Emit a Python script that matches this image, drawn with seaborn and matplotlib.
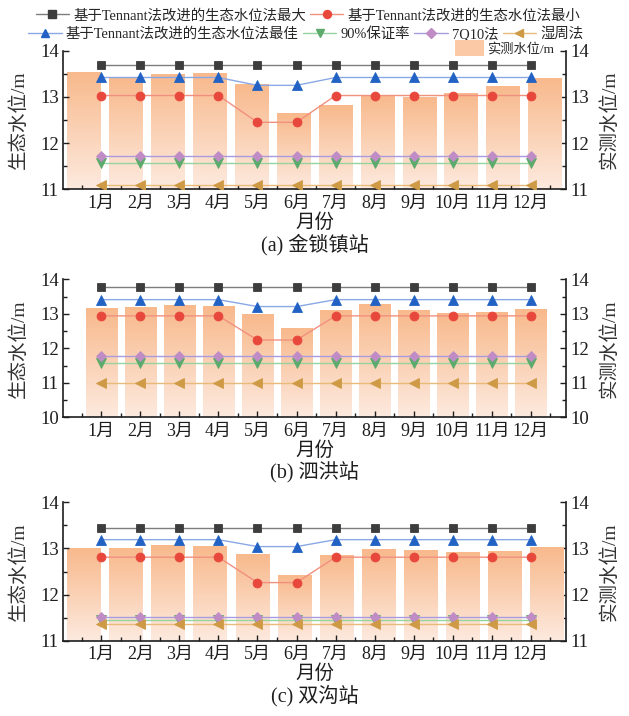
import numpy as np
import pandas as pd
import matplotlib
matplotlib.use("Agg")
import matplotlib.pyplot as plt
from matplotlib.colors import LinearSegmentedColormap
from matplotlib.lines import Line2D
from matplotlib.patches import Patch
from matplotlib.ticker import MultipleLocator
import seaborn as sns

# ---------------- data ----------------
months = [1, 2, 3, 4, 5, 6, 7, 8, 9, 10, 11, 12]
month_labels = ["1月", "2月", "3月", "4月", "5月", "6月", "7月", "8月", "9月", "10月", "11月", "12月"]

series_names = ["基于Tennant法改进的生态水位法最大", "基于Tennant法改进的生态水位法最小",
                "基于Tennant法改进的生态水位法最佳", "90%保证率", "7Q10法", "湿周法"]
bar_name = "实测水位/m"

# (a) 金锁镇站
jsz_max = [13.70, 13.70, 13.70, 13.70, 13.70, 13.70, 13.70, 13.70, 13.70, 13.70, 13.70, 13.70]
jsz_min = [13.03, 13.03, 13.03, 13.03, 12.45, 12.45, 13.03, 13.03, 13.03, 13.03, 13.03, 13.03]
jsz_best = [13.42, 13.42, 13.42, 13.42, 13.25, 13.25, 13.42, 13.42, 13.42, 13.42, 13.42, 13.42]
jsz_p90 = [11.58, 11.58, 11.58, 11.58, 11.58, 11.58, 11.58, 11.58, 11.58, 11.58, 11.58, 11.58]
jsz_7q10 = [11.73, 11.73, 11.73, 11.73, 11.73, 11.73, 11.73, 11.73, 11.73, 11.73, 11.73, 11.73]
jsz_wet = [11.09, 11.09, 11.09, 11.09, 11.09, 11.09, 11.09, 11.09, 11.09, 11.09, 11.09, 11.09]
jsz_obs = [13.52, 13.40, 13.47, 13.49, 13.26, 12.64, 12.81, 13.02, 12.99, 13.06, 13.21, 13.40]

# (b) 泗洪站
sh_max = [13.77, 13.77, 13.77, 13.77, 13.77, 13.77, 13.77, 13.77, 13.77, 13.77, 13.77, 13.77]
sh_min = [12.94, 12.94, 12.94, 12.94, 12.24, 12.24, 12.94, 12.94, 12.94, 12.94, 12.94, 12.94]
sh_best = [13.41, 13.41, 13.41, 13.41, 13.21, 13.21, 13.41, 13.41, 13.41, 13.41, 13.41, 13.41]
sh_p90 = [11.58, 11.58, 11.58, 11.58, 11.58, 11.58, 11.58, 11.58, 11.58, 11.58, 11.58, 11.58]
sh_7q10 = [11.78, 11.78, 11.78, 11.78, 11.78, 11.78, 11.78, 11.78, 11.78, 11.78, 11.78, 11.78]
sh_wet = [11.00, 11.00, 11.00, 11.00, 11.00, 11.00, 11.00, 11.00, 11.00, 11.00, 11.00, 11.00]
sh_obs = [13.14, 13.16, 13.22, 13.21, 12.98, 12.56, 13.09, 13.26, 13.10, 13.01, 13.04, 13.12]

# (c) 双沟站
sg_max = [13.45, 13.45, 13.45, 13.45, 13.45, 13.45, 13.45, 13.45, 13.45, 13.45, 13.45, 13.45]
sg_min = [12.81, 12.81, 12.81, 12.81, 12.26, 12.26, 12.81, 12.81, 12.81, 12.81, 12.81, 12.81]
sg_best = [13.19, 13.19, 13.19, 13.19, 13.04, 13.04, 13.19, 13.19, 13.19, 13.19, 13.19, 13.19]
sg_p90 = [11.45, 11.45, 11.45, 11.45, 11.45, 11.45, 11.45, 11.45, 11.45, 11.45, 11.45, 11.45]
sg_7q10 = [11.51, 11.51, 11.51, 11.51, 11.51, 11.51, 11.51, 11.51, 11.51, 11.51, 11.51, 11.51]
sg_wet = [11.37, 11.37, 11.37, 11.37, 11.37, 11.37, 11.37, 11.37, 11.37, 11.37, 11.37, 11.37]
sg_obs = [13.00, 13.01, 13.06, 13.05, 12.88, 12.42, 12.85, 12.98, 12.97, 12.92, 12.95, 13.03]

# ---------------- style ----------------
sns.set_style("ticks")
plt.rcParams["font.family"] = ["Liberation Serif", "Noto Sans CJK SC"]
plt.rcParams["axes.unicode_minus"] = False

# (marker, marker colour, line colour, marker size)
styles = [
    ("s", "#3d3d3d", "#7d7d7d", 6.0),
    ("o", "#e8473b", "#f2907f", 6.4),
    ("^", "#2262c4", "#8aa8e6", 7.0),
    ("v", "#5caa6c", "#95d49f", 7.0),
    ("D", "#c08cc6", "#a89be0", 5.2),
    ("<", "#cf9a45", "#e8bb7b", 7.0),
]
bar_cmap = LinearSegmentedColormap.from_list("obs", ["#fdeadf", "#f8b98c"])
ink = "#1e1e1e"

W, H = 629, 716
fig = plt.figure(figsize=(W / 100, H / 100), dpi=100)

AX_L, AX_R = 63, 566
line_xlim = (0.02, 12.9)


def px_rect(left, top, right, bottom):
    return [left / W, 1 - bottom / H, (right - left) / W, (bottom - top) / H]


def draw_panel(top, bottom, title, lines, obs, ylim, bar_xlim):
    rect = px_rect(AX_L, top, AX_R, bottom)

    # measured water level bars on their own axes (right-hand scale)
    ax_bar = fig.add_axes(rect)
    df_bar = pd.DataFrame({"month": months, "level": obs})
    sns.barplot(data=df_bar, x="month", y="level", native_scale=True, width=0.8,
                color="#f8c29c", ax=ax_bar, zorder=1)
    grad = np.linspace(0, 1, 256).reshape(-1, 1)
    for p in list(ax_bar.patches):
        x0, w = p.get_x(), p.get_width()
        top_v = p.get_y() + p.get_height()
        ax_bar.imshow(grad, extent=(x0, x0 + w, ylim[0], top_v), origin="lower",
                      cmap=bar_cmap, aspect="auto", zorder=1, interpolation="bicubic")
        p.set_facecolor("none")
        p.set_edgecolor("none")
    ax_bar.set_xlim(*bar_xlim)
    ax_bar.set_ylim(*ylim)
    ax_bar.set_xlabel("")
    ax_bar.set_ylabel("")
    ax_bar.tick_params(axis="x", bottom=False, labelbottom=False)
    ax_bar.yaxis.tick_right()
    ax_bar.yaxis.set_major_locator(MultipleLocator(1))
    ax_bar.yaxis.set_minor_locator(MultipleLocator(0.5))
    ax_bar.tick_params(axis="y", which="both", direction="in", right=True, left=False,
                       labelright=True, labelleft=False, labelsize=13.5, colors=ink,
                       width=1.0, pad=3)
    ax_bar.tick_params(axis="y", which="major", length=4.5)
    ax_bar.tick_params(axis="y", which="minor", length=2.8)
    for s in ["top", "left", "bottom"]:
        ax_bar.spines[s].set_visible(False)
    ax_bar.spines["right"].set_linewidth(1.2)
    ax_bar.spines["right"].set_color(ink)

    # ecological water level series
    ax = fig.add_axes(rect)
    ax.patch.set_alpha(0)
    for vals, (mk, mc, lc, ms) in zip(lines, styles):
        sns.lineplot(x=months, y=vals, ax=ax, color=lc, lw=1.0, marker=mk,
                     markersize=ms, markerfacecolor=mc, markeredgecolor=mc,
                     markeredgewidth=0.6, legend=False, zorder=3)
    ax.set_xlim(*line_xlim)
    ax.set_ylim(*ylim)
    ax.set_xticks(months)
    ax.set_xticklabels(month_labels)
    ax.xaxis.set_minor_locator(MultipleLocator(0.5))
    ax.yaxis.set_major_locator(MultipleLocator(1))
    ax.yaxis.set_minor_locator(MultipleLocator(0.5))
    ax.tick_params(which="both", direction="in", colors=ink, width=1.0)
    ax.tick_params(which="major", length=4.5)
    ax.tick_params(which="minor", length=2.8)
    ax.tick_params(axis="x", labelsize=13, pad=4)
    ax.tick_params(axis="y", labelsize=13.5, pad=3)
    ax.set_xlabel("")
    ax.set_ylabel("")
    for s in ["top", "right"]:
        ax.spines[s].set_visible(False)
    for s in ["left", "bottom"]:
        ax.spines[s].set_linewidth(1.2)
        ax.spines[s].set_color(ink)

    mid_y = 1 - (top + bottom) / 2 / H
    cx = (AX_L + AX_R) / 2 / W
    fig.text(19 / W, mid_y, "生态水位/m", rotation=90, ha="center", va="center",
             fontsize=14, color="#333333")
    fig.text(609 / W, mid_y, "实测水位/m", rotation=90, ha="center", va="center",
             fontsize=14, color="#333333")
    fig.text(cx, 1 - (bottom + 33) / H, "月份", ha="center", va="center",
             fontsize=14, color=ink)
    fig.text(cx, 1 - (bottom + 55) / H, title, ha="center", va="center",
             fontsize=14.5, color=ink)


draw_panel(50.7, 189.3, "(a) 金锁镇站",
           [jsz_max, jsz_min, jsz_best, jsz_p90, jsz_7q10, jsz_wet], jsz_obs,
           (11, 14), (0.5, 12.5))
draw_panel(279.3, 417.3, "(b) 泗洪站",
           [sh_max, sh_min, sh_best, sh_p90, sh_7q10, sh_wet], sh_obs,
           (10, 14), line_xlim)
draw_panel(502.3, 640.7, "(c) 双沟站",
           [sg_max, sg_min, sg_best, sg_p90, sg_7q10, sg_wet], sg_obs,
           (11, 14), (0.5, 12.45))

# ---------------- legends ----------------
handles = [Line2D([], [], color=lc, lw=1.0, marker=mk, markersize=ms * 0.9,
                  markerfacecolor=mc, markeredgecolor=mc)
           for (mk, mc, lc, ms) in styles]
leg_kw = dict(frameon=False, fontsize=10.4, handlelength=2.3, handletextpad=0.3,
              columnspacing=0.3, borderaxespad=0, borderpad=0)
fig.legend(handles[:2], series_names[:2], loc="center", ncol=2,
           bbox_to_anchor=(308 / W, 1 - 15.7 / H), **leg_kw)
fig.legend(handles[2:], series_names[2:], loc="center", ncol=4,
           bbox_to_anchor=(306 / W, 1 - 34 / H), **leg_kw)
fig.legend([Patch(facecolor="#fbc9a6", edgecolor="none")], [bar_name],
           loc="center right", bbox_to_anchor=(554 / W, 1 - 48 / H),
           frameon=False, fontsize=9.5, handlelength=2.2, handleheight=1.4,
           handletextpad=0.2, borderaxespad=0, borderpad=0)

fig.savefig("out.png", dpi=100)
